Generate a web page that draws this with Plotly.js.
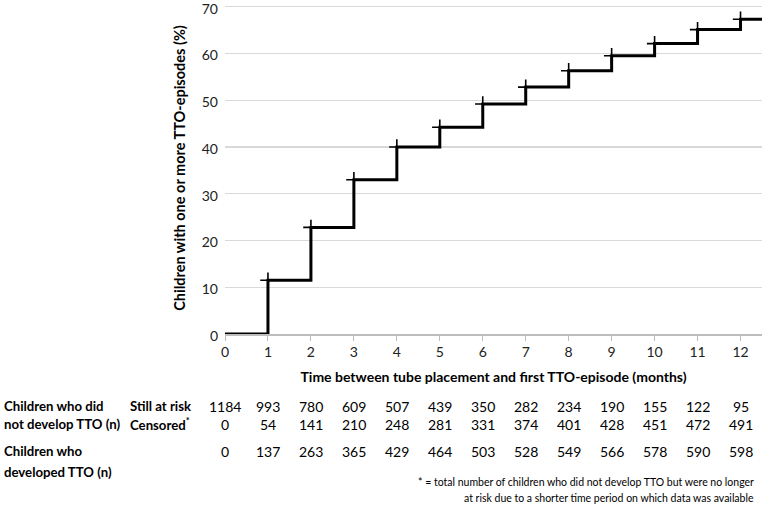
<!DOCTYPE html>
<html>
<head>
<meta charset="utf-8">
<script src="https://cdn.plot.ly/plotly-3.0.1.min.js"></script>
<style>html,body{margin:0;padding:0;background:#fff;}#chart{width:766px;height:508px;}</style>
</head>
<body>
<div id="chart"></div>
<script>
// Months after tube placement
var months = [0, 1, 2, 3, 4, 5, 6, 7, 8, 9, 10, 11, 12];
// Cumulative % of children with one or more TTO-episodes
var cumulativePct = [0, 11.5, 22.8, 33.0, 40.0, 44.2, 49.2, 52.8, 56.3, 59.5, 62.1, 65.1, 67.3];
// Risk table
var stillAtRisk = [1184, 993, 780, 609, 507, 439, 350, 282, 234, 190, 155, 122, 95];
var censored = [0, 54, 141, 210, 248, 281, 331, 374, 401, 428, 451, 472, 491];
var developed = [0, 137, 263, 365, 429, 464, 503, 528, 549, 566, 578, 590, 598];
var xTickLabels = ['0','1','2','3','4','5','6','7','8','9','10','11','12'];
var yTickVals = [0, 10, 20, 30, 40, 50, 60, 70];
var xMax = 12.5;
var yMax = 71;

var FONT = 'Lato, "Open Sans", sans-serif';
var PLOT_TOP = 2.33, PLOT_BOTTOM = 334;

// step line extended to the right edge of the axis
var stepX = months.concat([xMax]);
var stepY = cumulativePct.concat([cumulativePct[cumulativePct.length - 1]]);

var traces = [
  {
    x: stepX, y: stepY, type: 'scatter', mode: 'lines',
    line: {shape: 'hv', color: '#000', width: 3},
    hoverinfo: 'skip', showlegend: false, cliponaxis: false
  },
  {
    x: months.slice(1), y: cumulativePct.slice(1), type: 'scatter', mode: 'markers',
    marker: {symbol: 'cross-thin', size: 11, line: {color: '#000', width: 1.6}, color: '#000'},
    hoverinfo: 'skip', showlegend: false, cliponaxis: false
  }
];

var ann = [];
function yPaper(yPix) { return (PLOT_BOTTOM - yPix) / (PLOT_BOTTOM - PLOT_TOP); }
function rowText(values, yPix) {
  for (var i = 0; i < values.length; i++) {
    ann.push({x: months[i], xref: 'x', y: yPaper(yPix), yref: 'paper',
      text: String(values[i]), showarrow: false, xanchor: 'center', yanchor: 'middle',
      font: {family: FONT, size: 14, color: '#000'}});
  }
}
// plot area spans pixels 225..762; convert pixel x to paper x
function labelPx(text, xPix, yPix, bold, size, anchor) {
  ann.push({x: (xPix - 225) / 537, xref: 'paper', y: yPaper(yPix), yref: 'paper',
    text: bold ? '<b>' + text + '</b>' : text, showarrow: false,
    xanchor: anchor || 'left', yanchor: 'middle',
    font: {family: FONT, size: size || 13, color: '#000'}});
}
rowText(stillAtRisk, 406);
rowText(censored, 424);
rowText(developed, 451);
labelPx('Children who did', 2, 406, true, 13.2);
labelPx('not develop TTO (n)', 2, 424, true, 13.2);
labelPx('Still at risk', 128, 406, true, 13.2);
labelPx('Censored<sup>*</sup>', 128, 424, true, 13.2);
labelPx('Children who', 2, 451, true, 13.2);
labelPx('developed TTO (n)', 2, 472, true, 13.2);
labelPx('* = total number of children who did not develop TTO but were no longer', 756, 482, false, 10.5, 'right');
labelPx('at risk due to a shorter time period on which data was available', 756, 498, false, 10.5, 'right');

var layout = {
  width: 766, height: 508,
  margin: {l: 225, r: 4, t: PLOT_TOP, b: 508 - PLOT_BOTTOM, pad: 0},
  paper_bgcolor: '#fff', plot_bgcolor: '#fff',
  font: {family: FONT, size: 14, color: '#000'},
  showlegend: false,
  xaxis: {
    range: [0, xMax], tickvals: months, ticktext: xTickLabels,
    showgrid: false, zeroline: false,
    showline: true, linecolor: '#bdbdbd', linewidth: 1.5,
    ticks: 'outside', ticklen: 5, tickcolor: '#bdbdbd', tickwidth: 1,
    tickfont: {family: FONT, size: 14, color: '#222'},
    ticklabeloverflow: 'allow',
    title: {text: '<b>Time between tube placement and first TTO-episode (months)</b>',
      font: {family: FONT, size: 14, color: '#000'}, standoff: 13}
  },
  yaxis: {
    range: [0, yMax], tickvals: yTickVals,
    showgrid: true, gridcolor: '#d9d9d9', gridwidth: 1.3,
    zeroline: false, showline: false, ticks: '',
    tickfont: {family: FONT, size: 14, color: '#222'},
    ticklabelstandoff: 6,
    ticklabelshift: 2,
    ticklabeloverflow: 'allow',
    title: {text: '<b>Children with one or more TTO-episodes (%)</b>',
      font: {family: FONT, size: 14.5, color: '#000'}, standoff: 12}
  },
  annotations: ann
};

Plotly.newPlot('chart', traces, layout, {displayModeBar: false, staticPlot: true});
</script>
</body>
</html>
